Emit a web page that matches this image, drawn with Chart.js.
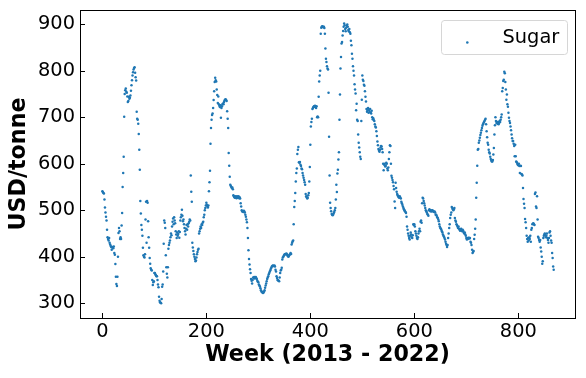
<!DOCTYPE html>
<html><head><meta charset="utf-8">
<script src="https://cdn.jsdelivr.net/npm/chart.js@4/dist/chart.umd.min.js"></script>
<style>html,body{margin:0;padding:0;background:#fff;}canvas{display:block;}</style>
</head><body>
<canvas id="c" width="586" height="378"></canvas>
<script>
const seriesName = 'Sugar';
const xAxisTitle = 'Week (2013 - 2022)';
const yAxisTitle = 'USD/tonne';
const xTickValues = [0, 200, 400, 600, 800];
const yTickValues = [300, 400, 500, 600, 700, 800, 900];
// weekly sugar price, USD/tonne (week index = position)
const sugarPrices = [
541,539,537,536,523,506,495,486,478,458,
442,438,435,440,430,426,423,421,415,420,
421,418,422,408,404,384,357,341,337,357,
400,451,462,455,438,442,438,467,494,550,
580,615,701,750,758,762,755,753,745,733,
735,744,740,742,747,757,769,780,790,797,
803,806,808,796,786,779,712,697,695,686,
664,630,587,520,493,468,458,445,419,403,
400,398,405,480,518,430,520,516,476,442,
419,397,385,375,372,370,350,339,345,347,
365,365,362,360,358,358,350,340,334,314,
305,302,301,300,309,335,340,368,428,478,
473,462,403,377,363,355,377,417,425,430,
435,442,450,446,465,475,482,470,485,478,
472,455,448,440,452,445,449,455,441,453,
478,485,490,501,488,476,480,470,462,455,
448,460,468,458,470,465,472,475,480,478,
575,540,518,430,420,412,405,400,395,390,
392,398,405,410,415,417,450,455,460,465,
462,470,468,473,475,485,490,500,505,510,
516,512,508,506,510,541,560,585,643,677,
695,705,708,720,737,756,776,785,780,777,
760,748,731,745,728,725,722,726,699,720,
724,728,730,728,733,736,738,739,737,735,
713,697,677,623,596,572,555,552,550,548,
549,545,532,530,528,527,530,528,526,530,
528,527,530,526,528,525,515,508,500,497,
498,496,499,497,495,490,486,480,474,462,
440,414,395,383,373,365,352,348,342,350,
355,354,356,353,355,356,354,352,348,346,
345,340,338,336,332,328,325,324,323,322,
323,325,328,333,338,342,347,352,355,358,
362,365,368,371,374,376,379,380,381,380,
380,381,379,372,368,358,354,350,349,348,
347,355,365,370,372,376,394,398,400,402,
404,405,406,405,407,405,403,401,400,402,
404,405,408,406,426,430,433,435,470,507,
520,537,562,580,590,621,630,636,603,602,
604,598,595,590,588,580,575,570,565,560,
555,535,530,528,525,527,532,537,562,593,
641,680,690,697,718,720,722,724,723,725,
722,720,724,700,702,700,744,777,790,800,
880,893,895,896,895,894,895,892,880,848,
826,819,810,805,803,753,658,575,516,505,
498,492,490,489,491,494,496,500,505,523,
555,539,579,587,609,625,695,749,805,830,
859,862,876,886,895,902,898,890,885,893,
897,900,895,888,885,890,883,880,865,855,
837,826,810,800,790,771,760,751,715,729,
695,692,663,645,635,625,615,610,692,738,
790,781,778,770,768,756,744,734,718,712,
715,720,710,716,712,718,710,708,714,700,
696,698,694,692,685,680,678,670,660,648,
640,632,628,626,630,635,638,637,632,625,
600,586,598,600,594,596,602,600,590,586,
592,610,625,640,638,600,574,570,565,560,
552,545,519,505,559,548,540,535,532,530,
528,527,530,527,525,518,515,512,508,505,
502,500,498,496,494,486,465,458,450,445,
440,437,445,452,448,442,440,446,470,468,
470,465,455,450,445,440,438,442,450,455,
460,455,475,478,473,515,527,525,520,515,
510,505,500,498,495,492,490,488,500,502,
500,498,500,497,499,500,498,497,496,497,
495,490,490,488,485,483,480,476,470,465,
462,460,458,455,452,448,445,443,440,437,
432,428,425,421,425,440,450,462,470,483,
490,495,507,505,502,500,502,505,483,478,
475,470,468,465,462,465,460,458,456,458,
460,457,455,458,456,452,450,452,448,445,
440,437,440,438,440,441,439,440,432,430,
425,415,408,410,412,438,447,460,480,527,
559,596,630,632,645,650,656,662,667,672,
677,682,685,688,690,692,695,697,685,670,
657,645,641,630,625,622,615,610,607,605,
605,608,620,634,663,683,700,692,688,690,
686,690,685,688,692,690,695,700,706,756,
763,778,781,798,795,776,760,738,749,728,
723,710,699,692,688,680,672,663,655,649,
649,643,638,616,641,616,605,603,600,598,
597,600,595,580,596,595,578,577,575,548,
524,514,505,481,474,462,445,438,432,440,
435,442,438,445,432,458,462,470,471,472,
470,468,535,538,508,505,530,480,443,440,
436,432,436,420,411,400,385,390,440,445,
448,450,446,442,445,450,440,436,430,440,
452,455,445,435,430,408,397,379,372
];
const weeks = sugarPrices.map((_, i) => i);

const FONT = 'DejaVu Sans';
const BLUE = '#1f77b4';

function zeroPad(s) {
  s.paddingTop = 0; s.paddingBottom = 0; s.paddingLeft = 0; s.paddingRight = 0;
}

const framePlugin = {
  id: 'frame',
  afterDraw(chart) {
    const {ctx, chartArea: a, scales} = chart;
    ctx.save();
    ctx.strokeStyle = '#000';
    ctx.lineWidth = 1;
    // inward ticks
    ctx.beginPath();
    xTickValues.forEach(v => {
      const px = Math.round(scales.x.getPixelForValue(v)) + 0.5;
      ctx.moveTo(px, a.bottom); ctx.lineTo(px, a.bottom - 5);
    });
    yTickValues.forEach(v => {
      const py = Math.round(scales.y.getPixelForValue(v)) + 0.5;
      ctx.moveTo(a.left, py); ctx.lineTo(a.left + 5, py);
    });
    ctx.stroke();
    // frame
    ctx.strokeRect(Math.round(a.left) + 0.5, Math.round(a.top) + 0.5,
                   Math.round(a.right - a.left), Math.round(a.bottom - a.top));
    // legend
    const lx = 441, ly = 20, lw = 126, lh = 34, r = 3;
    ctx.beginPath();
    ctx.moveTo(lx + r, ly + 0.5);
    ctx.arcTo(lx + lw + 0.5, ly + 0.5, lx + lw + 0.5, ly + lh + 0.5, r);
    ctx.arcTo(lx + lw + 0.5, ly + lh + 0.5, lx + 0.5, ly + lh + 0.5, r);
    ctx.arcTo(lx + 0.5, ly + lh + 0.5, lx + 0.5, ly + 0.5, r);
    ctx.arcTo(lx + 0.5, ly + 0.5, lx + lw + 0.5, ly + 0.5, r);
    ctx.closePath();
    ctx.fillStyle = 'rgba(255,255,255,0.8)';
    ctx.fill();
    ctx.strokeStyle = '#d6d6d6';
    ctx.stroke();
    ctx.fillStyle = BLUE;
    ctx.beginPath();
    ctx.arc(467.3, 42.5, 1.3, 0, Math.PI * 2);
    ctx.fill();
    ctx.fillStyle = '#000';
    ctx.font = '19.4px "' + FONT + '"';
    ctx.textBaseline = 'alphabetic';
    ctx.textAlign = 'left';
    ctx.fillText(seriesName, 502.5, 43.3);
    ctx.restore();
  }
};

new Chart(document.getElementById('c'), {
  type: 'scatter',
  data: {
    datasets: [{
      label: seriesName,
      data: weeks.map((w, i) => ({x: w, y: sugarPrices[i]})),
      pointRadius: 1.25,
      pointHoverRadius: 1.25,
      pointBackgroundColor: BLUE,
      pointBorderWidth: 0,
      showLine: false
    }]
  },
  options: {
    responsive: false,
    animation: false,
    devicePixelRatio: 1,
    layout: {padding: {left: 0, top: 10, right: 11, bottom: 0}},
    plugins: {legend: {display: false}, tooltip: {enabled: false}},
    scales: {
      x: {
        type: 'linear', min: -43, max: 909,
        grid: {display: false, drawTicks: false}, border: {display: false},
        ticks: {font: {family: FONT, size: 19.4}, color: '#000', padding: 2.5, maxRotation: 0},
        afterBuildTicks: s => { s.ticks = xTickValues.map(v => ({value: v})); },
        afterFit: s => { s.height = 60; zeroPad(s); },
        title: {display: true, text: xAxisTitle, color: '#000',
                font: {family: FONT, size: 22.2, weight: 'bold'}, padding: {top: 0, bottom: 9}}
      },
      y: {
        type: 'linear', min: 268, max: 931,
        grid: {display: false, drawTicks: false}, border: {display: false},
        ticks: {font: {family: FONT, size: 19.4}, color: '#000', padding: 5},
        afterBuildTicks: s => { s.ticks = yTickValues.map(v => ({value: v})); },
        afterFit: s => { s.width = 80; zeroPad(s); },
        title: {display: true, text: yAxisTitle, color: '#000',
                font: {family: FONT, size: 22.2, weight: 'bold'}, padding: {top: 6, bottom: 0}}
      }
    }
  },
  plugins: [framePlugin]
});
</script>
</body></html>
